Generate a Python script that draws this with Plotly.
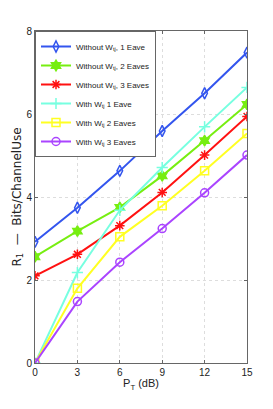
import plotly.graph_objects as go

pt_db = [0, 3, 6, 9, 12, 15]
without_1 = [2.92, 3.74, 4.63, 5.59, 6.50, 7.48]
without_2 = [2.56, 3.18, 3.75, 4.51, 5.36, 6.23]
without_3 = [2.10, 2.62, 3.31, 4.11, 5.01, 5.94]
with_1 = [0.0, 2.18, 3.68, 4.71, 5.69, 6.64]
with_2 = [0.0, 1.80, 3.04, 3.79, 4.63, 5.53]
with_3 = [0.0, 1.48, 2.43, 3.24, 4.10, 5.01]

names = ["Without W<sub>tj</sub>, 1 Eave", "Without W<sub>tj</sub>, 2 Eaves",
         "Without W<sub>tj</sub>, 3 Eaves", "With W<sub>tj</sub> 1 Eave",
         "With W<sub>tj</sub> 2 Eaves", "With W<sub>tj</sub> 3 Eaves"]
series = [without_1, without_2, without_3, with_1, with_2, with_3]
colors = ["#3355ee", "#77ee11", "#ff1111", "#77ffe0", "#ffff22", "#aa44ff"]
symbols = ["diamond-tall-open", "hexagram", "asterisk-open", "cross-thin-open",
           "square-open", "circle-open"]

fig = go.Figure()
for n, s, c, m in zip(names, series, colors, symbols):
    fig.add_trace(go.Scatter(
        x=pt_db, y=s, name=n, mode="lines+markers",
        line=dict(color=c, width=2),
        marker=dict(symbol=m, size=8, color=c, line=dict(color=c, width=1.5)),
    ))

narrow = "Liberation Sans Narrow, Arial Narrow, sans-serif"
axis_common = dict(
    showline=True, linecolor="#666666", linewidth=1, mirror="ticks",
    ticks="inside", ticklen=3, tickcolor="#666666",
    showgrid=True, gridcolor="#dddddd", griddash="dot", gridwidth=1,
    zeroline=False, automargin=False,
    tickfont=dict(family=narrow, size=10, color="#222222"),
)

fig.update_layout(
    width=265, height=401,
    margin=dict(l=27, r=26, t=23, b=46),
    paper_bgcolor="white", plot_bgcolor="white",
    showlegend=True,
    legend=dict(
        x=0, y=1, xanchor="left", yanchor="top",
        bgcolor="white", bordercolor="#666666", borderwidth=1,
        font=dict(family=narrow, size=8, color="#222222"),
        itemwidth=30, tracegroupgap=0,
    ),
    xaxis=dict(range=[0, 15], tickvals=[0, 3, 6, 9, 12, 15],
               title=dict(text="P<sub>T</sub> (dB)", standoff=2,
                          font=dict(family=narrow, size=11, color="#222222")),
               **axis_common),
    yaxis=dict(range=[0, 8], tickvals=[0, 2, 4, 6, 8],
               title=dict(text="R<sub>1</sub>  \u2014  Bits/ChannelUse", standoff=2,
                          font=dict(family="DejaVu Sans, Verdana, sans-serif", size=12, color="#222222")),
               **axis_common),
)

fig.write_html("out.html")
